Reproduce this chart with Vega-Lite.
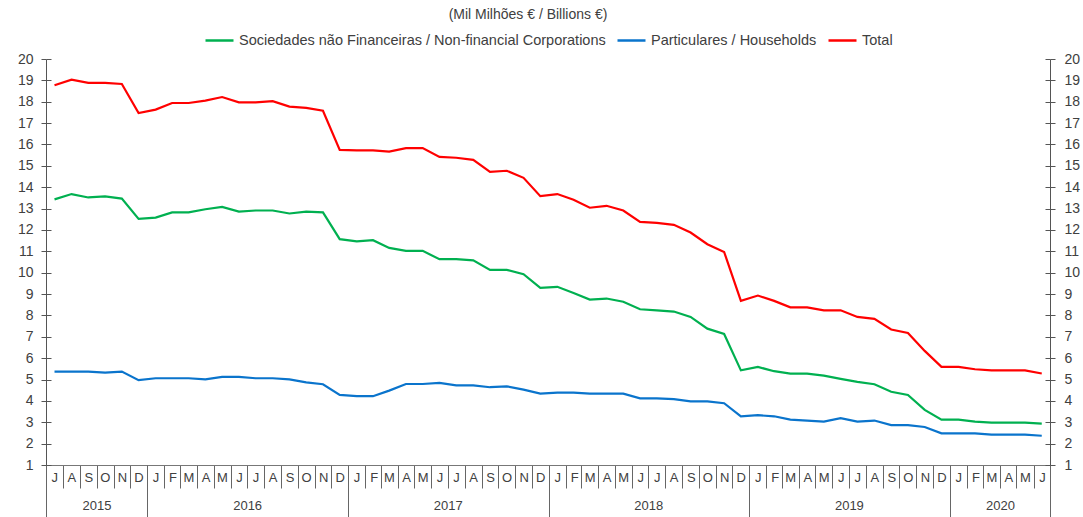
{
  "$schema": "https://vega.github.io/schema/vega-lite/v6.json",
  "width": 1004,
  "height": 406,
  "autosize": {"type": "none"},
  "padding": {"left": 46, "top": 59, "right": 33, "bottom": 52},
  "background": "white",
  "title": {"text": "(Mil Milhões € / Billions €)", "fontSize": 14, "fontWeight": "normal", "color": "#404040", "font": "Liberation Sans", "anchor": "middle", "offset": 3, "dx": -20},
  "data": {"values": [
    {"month": "2015-07", "nfc": 13.43, "hh": 5.37, "total": 18.77},
    {"month": "2015-08", "nfc": 13.68, "hh": 5.37, "total": 19.03},
    {"month": "2015-09", "nfc": 13.52, "hh": 5.37, "total": 18.88},
    {"month": "2015-10", "nfc": 13.57, "hh": 5.32, "total": 18.88},
    {"month": "2015-11", "nfc": 13.47, "hh": 5.37, "total": 18.83},
    {"month": "2015-12", "nfc": 12.52, "hh": 4.97, "total": 17.47},
    {"month": "2016-01", "nfc": 12.58, "hh": 5.06, "total": 17.63},
    {"month": "2016-02", "nfc": 12.82, "hh": 5.06, "total": 17.94},
    {"month": "2016-03", "nfc": 12.82, "hh": 5.06, "total": 17.94},
    {"month": "2016-04", "nfc": 12.97, "hh": 5.01, "total": 18.05},
    {"month": "2016-05", "nfc": 13.08, "hh": 5.12, "total": 18.22},
    {"month": "2016-06", "nfc": 12.86, "hh": 5.12, "total": 17.97},
    {"month": "2016-07", "nfc": 12.91, "hh": 5.06, "total": 17.97},
    {"month": "2016-08", "nfc": 12.91, "hh": 5.06, "total": 18.03},
    {"month": "2016-09", "nfc": 12.77, "hh": 5.01, "total": 17.77},
    {"month": "2016-10", "nfc": 12.86, "hh": 4.87, "total": 17.71},
    {"month": "2016-11", "nfc": 12.82, "hh": 4.78, "total": 17.58},
    {"month": "2016-12", "nfc": 11.57, "hh": 4.28, "total": 15.75},
    {"month": "2017-01", "nfc": 11.47, "hh": 4.22, "total": 15.72},
    {"month": "2017-02", "nfc": 11.52, "hh": 4.22, "total": 15.72},
    {"month": "2017-03", "nfc": 11.16, "hh": 4.48, "total": 15.67},
    {"month": "2017-04", "nfc": 11.02, "hh": 4.79, "total": 15.83},
    {"month": "2017-05", "nfc": 11.02, "hh": 4.79, "total": 15.83},
    {"month": "2017-06", "nfc": 10.63, "hh": 4.84, "total": 15.42},
    {"month": "2017-07", "nfc": 10.63, "hh": 4.73, "total": 15.38},
    {"month": "2017-08", "nfc": 10.58, "hh": 4.73, "total": 15.28},
    {"month": "2017-09", "nfc": 10.13, "hh": 4.64, "total": 14.72},
    {"month": "2017-10", "nfc": 10.13, "hh": 4.68, "total": 14.77},
    {"month": "2017-11", "nfc": 9.93, "hh": 4.53, "total": 14.44},
    {"month": "2017-12", "nfc": 9.29, "hh": 4.34, "total": 13.58},
    {"month": "2018-01", "nfc": 9.34, "hh": 4.39, "total": 13.68},
    {"month": "2018-02", "nfc": 9.05, "hh": 4.39, "total": 13.41},
    {"month": "2018-03", "nfc": 8.74, "hh": 4.34, "total": 13.04},
    {"month": "2018-04", "nfc": 8.79, "hh": 4.34, "total": 13.13},
    {"month": "2018-05", "nfc": 8.64, "hh": 4.34, "total": 12.91},
    {"month": "2018-06", "nfc": 8.29, "hh": 4.12, "total": 12.38},
    {"month": "2018-07", "nfc": 8.24, "hh": 4.12, "total": 12.33},
    {"month": "2018-08", "nfc": 8.18, "hh": 4.08, "total": 12.24},
    {"month": "2018-09", "nfc": 7.93, "hh": 3.98, "total": 11.88},
    {"month": "2018-10", "nfc": 7.38, "hh": 3.98, "total": 11.33},
    {"month": "2018-11", "nfc": 7.13, "hh": 3.89, "total": 10.97},
    {"month": "2018-12", "nfc": 5.43, "hh": 3.28, "total": 8.68},
    {"month": "2019-01", "nfc": 5.59, "hh": 3.33, "total": 8.93},
    {"month": "2019-02", "nfc": 5.39, "hh": 3.28, "total": 8.68},
    {"month": "2019-03", "nfc": 5.28, "hh": 3.12, "total": 8.38},
    {"month": "2019-04", "nfc": 5.28, "hh": 3.08, "total": 8.38},
    {"month": "2019-05", "nfc": 5.18, "hh": 3.03, "total": 8.24},
    {"month": "2019-06", "nfc": 5.03, "hh": 3.19, "total": 8.24},
    {"month": "2019-07", "nfc": 4.89, "hh": 3.03, "total": 7.93},
    {"month": "2019-08", "nfc": 4.78, "hh": 3.08, "total": 7.84},
    {"month": "2019-09", "nfc": 4.43, "hh": 2.87, "total": 7.34},
    {"month": "2019-10", "nfc": 4.28, "hh": 2.87, "total": 7.18},
    {"month": "2019-11", "nfc": 3.58, "hh": 2.78, "total": 6.34},
    {"month": "2019-12", "nfc": 3.12, "hh": 2.48, "total": 5.59},
    {"month": "2020-01", "nfc": 3.12, "hh": 2.48, "total": 5.59},
    {"month": "2020-02", "nfc": 3.03, "hh": 2.48, "total": 5.48},
    {"month": "2020-03", "nfc": 2.98, "hh": 2.42, "total": 5.43},
    {"month": "2020-04", "nfc": 2.98, "hh": 2.42, "total": 5.43},
    {"month": "2020-05", "nfc": 2.98, "hh": 2.42, "total": 5.43},
    {"month": "2020-06", "nfc": 2.94, "hh": 2.37, "total": 5.28}
  ]},
  "transform": [{"fold": ["nfc", "hh", "total"], "as": ["series", "value"]}],
  "layer": [
    {
      "mark": {"type": "line", "strokeWidth": 2.2},
      "encoding": {
        "x": {"field": "month", "timeUnit": "utcyearmonth", "type": "temporal", "bandPosition": 0.5,
          "scale": {"type": "utc", "domain": [{"year": 2015, "month": 7, "date": 1, "utc": true}, {"year": 2020, "month": 7, "date": 1, "utc": true}]},
          "axis": {"orient": "bottom", "title": null, "grid": false, "tickCount": {"interval": "month", "step": 1},
            "labelExpr": "datum.value >= utc(2020,6,1) ? '' : slice(utcFormat(datum.value,'%B'),0,1)",
            "labelOffset": 8.37, "labelAlign": "center", "labelBaseline": "middle", "tickSize": 23, "labelPadding": -11,
            "tickColor": "#666666", "domainColor": "#777777", "labelFontSize": 13, "labelColor": "#404040", "labelFont": "Liberation Sans",
            "labelFlush": false, "labelOverlap": false, "labelBound": false}},
        "y": {"field": "value", "type": "quantitative", "scale": {"domain": [1, 20], "nice": false, "zero": false},
          "axis": {"orient": "left", "title": null, "grid": false, "values": [1,2,3,4,5,6,7,8,9,10,11,12,13,14,15,16,17,18,19,20],
            "tickSize": 5, "labelPadding": 8, "tickColor": "#555555", "domainColor": "#555555", "labelFontSize": 14, "labelColor": "#404040", "labelFont": "Liberation Sans"}},
        "color": {"field": "series", "type": "nominal",
          "scale": {"domain": ["nfc", "hh", "total"], "range": ["#00b050", "#0a74cc", "#ff0000"]},
          "legend": {"orient": "top", "direction": "horizontal", "title": null, "symbolType": "stroke", "symbolSize": 784, "symbolStrokeWidth": 2.5,
            "labelFontSize": 14.5, "labelColor": "#404040", "labelFont": "Liberation Sans", "labelOffset": 4, "columnPadding": 6, "labelLimit": 600, "offset": 12,
            "labelExpr": "datum.value == 'nfc' ? 'Sociedades não Financeiras / Non-financial Corporations' : datum.value == 'hh' ? 'Particulares / Households' : 'Total'"}}
      }
    },
    {
      "mark": {"type": "point", "opacity": 0},
      "encoding": {
        "x": {"field": "month", "timeUnit": "utcyearmonth", "type": "temporal", "bandPosition": 0.5,
          "axis": {"orient": "bottom", "title": null, "grid": false, "labels": false, "domain": false, "tickSize": 52, "tickColor": "#666666",
            "values": [{"year": 2015, "month": 7, "date": 1, "utc": true}, {"year": 2016, "month": 1, "date": 1, "utc": true}, {"year": 2017, "month": 1, "date": 1, "utc": true}, {"year": 2018, "month": 1, "date": 1, "utc": true}, {"year": 2019, "month": 1, "date": 1, "utc": true}, {"year": 2020, "month": 1, "date": 1, "utc": true}, {"year": 2020, "month": 7, "date": 1, "utc": true}]}},
        "y": {"field": "value", "type": "quantitative",
          "axis": {"orient": "left", "title": null, "grid": false, "labels": false, "domain": false, "values": [1,2,3,4,5,6,7,8,9,10,11,12,13,14,15,16,17,18,19,20], "tickSize": -5, "tickColor": "#555555"}}
      }
    },
    {
      "mark": {"type": "point", "opacity": 0},
      "encoding": {
        "x": {"field": "month", "timeUnit": "utcyearmonth", "type": "temporal", "bandPosition": 0.5,
          "axis": {"orient": "bottom", "title": null, "grid": false, "ticks": false, "domain": false,
            "values": [{"year": 2015, "month": 10, "date": 1, "utc": true}, {"year": 2016, "month": 7, "date": 1, "utc": true}, {"year": 2017, "month": 7, "date": 1, "utc": true}, {"year": 2018, "month": 7, "date": 1, "utc": true}, {"year": 2019, "month": 7, "date": 1, "utc": true}, {"year": 2020, "month": 4, "date": 1, "utc": true}],
            "labelExpr": "utcFormat(datum.value,'%Y')", "labelPadding": 40, "labelBaseline": "middle", "labelAlign": "center",
            "labelFontSize": 13, "labelColor": "#404040", "labelFont": "Liberation Sans", "labelFlush": false, "labelOverlap": false}},
        "y": {"field": "value", "type": "quantitative",
          "axis": {"orient": "right", "title": null, "grid": false, "values": [1,2,3,4,5,6,7,8,9,10,11,12,13,14,15,16,17,18,19,20],
            "tickSize": 5, "labelPadding": 9, "tickColor": "#555555", "domainColor": "#555555", "labelFontSize": 14, "labelColor": "#404040", "labelFont": "Liberation Sans"}}
      }
    },
    {
      "mark": {"type": "point", "opacity": 0},
      "encoding": {
        "x": {"field": "month", "timeUnit": "utcyearmonth", "type": "temporal", "bandPosition": 0.5, "axis": null},
        "y": {"field": "value", "type": "quantitative",
          "axis": {"orient": "right", "title": null, "grid": false, "labels": false, "domain": false, "values": [1,2,3,4,5,6,7,8,9,10,11,12,13,14,15,16,17,18,19,20], "tickSize": -5, "tickColor": "#555555"}}
      }
    }
  ],
  "resolve": {"axis": {"x": "independent", "y": "independent"}},
  "config": {"view": {"stroke": null}, "font": "Liberation Sans", "legend": {"layout": {"top": {"anchor": "middle"}}}}
}
